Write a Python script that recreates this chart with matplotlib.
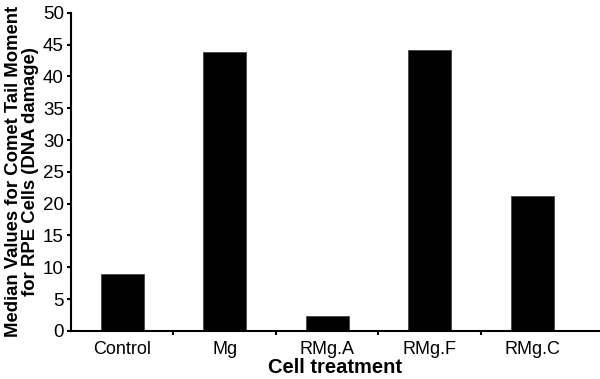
import matplotlib
matplotlib.use('Agg')
import matplotlib.pyplot as plt
import numpy as np

categories = ['Control', 'Mg', 'RMg.A', 'RMg.F', 'RMg.C']
median_values = [8.9, 43.9, 2.4, 44.2, 21.2]
y_ticks = [0, 5, 10, 15, 20, 25, 30, 35, 40, 45, 50]

plt.rcParams['font.family'] = ['Liberation Sans', 'DejaVu Sans']

fig = plt.figure(figsize=(6.0, 3.79), dpi=100)
ax = fig.add_axes([0.118, 0.127, 0.88, 0.839])

x = np.arange(len(categories))
ax.bar(x, median_values, width=0.42, color='black', edgecolor='#444444', linewidth=0.6)

ax.set_xlim(-0.5, 4.65)
ax.set_ylim(0, 50)
ax.set_yticks(y_ticks)
ax.set_xticks(x)
ax.set_xticklabels(categories, fontsize=13)
ax.tick_params(axis='x', length=0, pad=7)
ax.set_xticks(x[:-1] + 0.5, minor=True)
ax.tick_params(axis='x', which='minor', length=3, width=1.5, direction='out')
ax.tick_params(axis='y', labelsize=13.5, length=3, width=1.5, pad=2)

for side in ['top', 'right']:
    ax.spines[side].set_visible(False)
for side in ['left', 'bottom']:
    ax.spines[side].set_linewidth(1.5)

ax.set_ylabel('Median Values for Comet Tail Moment\nfor RPE Cells (DNA damage)',
              fontsize=13.3, fontweight='bold', linespacing=1.0, labelpad=3)
ax.set_xlabel('Cell treatment', fontsize=14.5, fontweight='bold', labelpad=0)

fig.savefig('out.png', dpi=100)
